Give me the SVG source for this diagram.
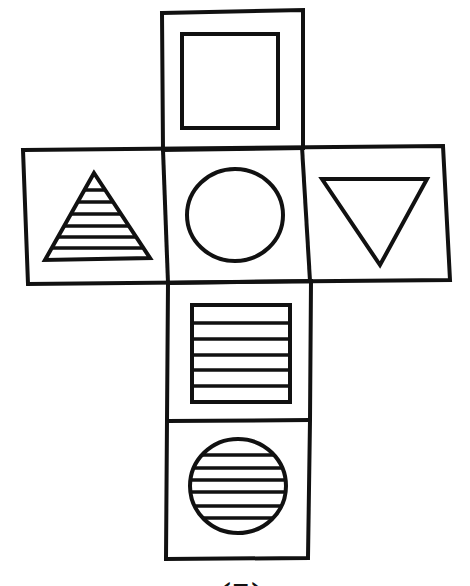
<svg xmlns="http://www.w3.org/2000/svg" width="470" height="586" viewBox="0 0 470 586">
<style>
.ln{fill:none;stroke:#111;stroke-width:4;stroke-linejoin:miter}
.sh{fill:#fff;stroke:#111;stroke-width:4}
.st{stroke:#111;stroke-width:3.5}
.lbl{font-family:"Liberation Serif",serif;font-weight:bold;font-size:40px;fill:#111}
</style>
<defs>
<clipPath id="cc"><ellipse cx="238" cy="486" rx="48" ry="47"/></clipPath>
<clipPath id="ct"><polygon points="94,173 45,260 150,258"/></clipPath>
</defs>
<rect width="470" height="586" fill="#fff"/>
<g id="net">
<polygon class="ln" points="162,13 303,10 303,148 163,150"/>
<polygon class="ln" points="23,150 443,146 450,280 28,284"/>
<polyline class="ln" points="163,150 168,283"/>
<polyline class="ln" points="302,147 310,281"/>
<polygon class="ln" points="168,283 311,281 310,420 308,558 166,559"/>
<line class="ln" x1="167" y1="421" x2="310" y2="420"/>
</g>
<g id="face-square">
<rect class="sh" x="182" y="34" width="96" height="94"/>
</g>
<g id="face-triangle-striped">
<g clip-path="url(#ct)" class="st">
<line x1="30" y1="190" x2="170" y2="190"/>
<line x1="30" y1="202" x2="170" y2="202"/>
<line x1="30" y1="214" x2="170" y2="214"/>
<line x1="30" y1="226" x2="170" y2="226"/>
<line x1="30" y1="237" x2="170" y2="237"/>
<line x1="30" y1="248" x2="170" y2="248"/>
</g>
<polygon class="ln" points="94,173 45,260 150,258"/>
</g>
<g id="face-circle">
<ellipse class="sh" cx="235" cy="215" rx="48" ry="46"/>
</g>
<g id="face-triangle-down">
<polygon class="sh" points="322,179 427,179 380,265"/>
</g>
<g id="face-square-striped">
<rect class="sh" x="192" y="305" width="98" height="97"/>
<g class="st">
<line x1="192" y1="323" x2="290" y2="323"/>
<line x1="192" y1="339" x2="290" y2="339"/>
<line x1="192" y1="355" x2="290" y2="355"/>
<line x1="192" y1="370" x2="290" y2="370"/>
<line x1="192" y1="386" x2="290" y2="386"/>
</g>
</g>
<g id="face-circle-striped">
<g clip-path="url(#cc)" class="st">
<line x1="180" y1="455" x2="300" y2="455"/>
<line x1="180" y1="468" x2="300" y2="468"/>
<line x1="180" y1="480" x2="300" y2="480"/>
<line x1="180" y1="492" x2="300" y2="492"/>
<line x1="180" y1="506" x2="300" y2="506"/>
<line x1="180" y1="518" x2="300" y2="518"/>
</g>
<ellipse class="ln" cx="238" cy="486" rx="48" ry="47"/>
</g>
<text class="lbl" x="241" y="610" text-anchor="middle">(5)</text>
</svg>
